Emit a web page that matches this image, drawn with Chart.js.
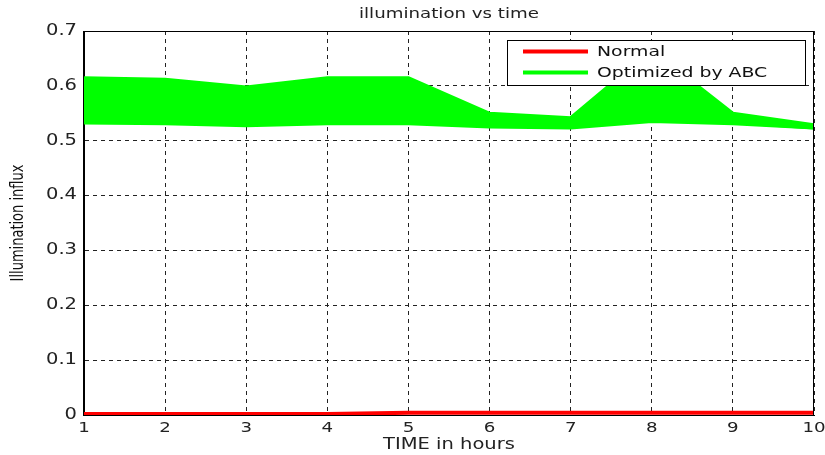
<!DOCTYPE html>
<html>
<head>
<meta charset="utf-8">
<script src="https://cdn.jsdelivr.net/npm/chart.js@4/dist/chart.umd.min.js"></script>
<style>
  html, body { margin: 0; padding: 0; background: #fff; }
  canvas { display: block; }
</style>
</head>
<body>
<canvas id="chart" width="825" height="455"></canvas>
<script>
// DATA
const hours = [1, 2, 3, 4, 5, 6, 7, 8, 9, 10];
const normal = [0.002, 0.002, 0.002, 0.002, 0.004, 0.004, 0.004, 0.004, 0.004, 0.004];

// the "Optimized by ABC" runs, top of the band first
const abc1 = [0.614, 0.611, 0.597, 0.614, 0.614, 0.549, 0.541, 0.665, 0.549, 0.528];
const abc2 = [0.603, 0.600, 0.588, 0.603, 0.604, 0.546, 0.538, 0.640, 0.546, 0.527];
const abc3 = [0.592, 0.588, 0.578, 0.592, 0.594, 0.543, 0.535, 0.618, 0.543, 0.526];
const abc4 = [0.580, 0.576, 0.568, 0.580, 0.583, 0.540, 0.533, 0.600, 0.541, 0.526];
const abc5 = [0.567, 0.565, 0.557, 0.567, 0.570, 0.537, 0.531, 0.584, 0.538, 0.525];
const abc6 = [0.555, 0.553, 0.546, 0.555, 0.557, 0.533, 0.528, 0.568, 0.536, 0.525];
const abc7 = [0.543, 0.542, 0.537, 0.543, 0.544, 0.529, 0.526, 0.552, 0.534, 0.524];
const abc8 = [0.533, 0.532, 0.528, 0.532, 0.532, 0.526, 0.524, 0.536, 0.532, 0.524];
const abcRuns = [abc1, abc2, abc3, abc4, abc5, abc6, abc7, abc8];

const yTickLabels = ['0', '0.1', '0.2', '0.3', '0.4', '0.5', '0.6', '0.7'];
const seriesNames = ['Normal', 'Optimized by ABC'];

const RED = '#ff0000';
const GREEN = '#00ff00';
const FONT = "'DejaVu Sans', sans-serif";

// the reference figure is stretched sideways, so the text is too
const TEXT_STRETCH = 1.3;
const canvas = document.getElementById('chart');
const ctx = canvas.getContext('2d');
const plainFillText = ctx.fillText;
ctx.fillText = function (text, x, y, maxWidth) {
    const m = this.getTransform();
    const p = m.transformPoint(new DOMPoint(x, y));
    this.save();
    this.setTransform(new DOMMatrix().translate(p.x, p.y).scale(TEXT_STRETCH, 1).translate(-p.x, -p.y).multiply(m));
    if (maxWidth === undefined) plainFillText.call(this, text, x, y);
    else plainFillText.call(this, text, x, y, maxWidth);
    this.restore();
};

function points(values) {
    return hours.map((h, i) => ({ x: h, y: values[i] }));
}

const datasets = [{
    label: seriesNames[0],
    data: points(normal),
    borderColor: RED,
    borderWidth: 4,
    pointRadius: 0,
    order: 0
}];

abcRuns.forEach((run, i) => {
    datasets.push({
        label: i === 0 ? seriesNames[1] : '',
        data: points(run),
        borderColor: GREEN,
        backgroundColor: GREEN,
        borderWidth: 4,
        pointRadius: 0,
        fill: i === 0 ? abcRuns.length : false,
        order: 1
    });
});

// box round the axes and the legend inside it
const frameAndLegend = {
    id: 'frameAndLegend',
    afterDatasetsDraw(chart) {
        const c = chart.ctx;
        const a = chart.chartArea;
        c.save();
        c.strokeStyle = '#000';
        c.lineWidth = 1;
        c.setLineDash([]);
        c.strokeRect(Math.round(a.left) - 0.5, Math.round(a.top) + 0.5, Math.round(a.right - a.left), Math.round(a.bottom - a.top));

        const lx = 507.5, ly = 40.5, lw = 298, lh = 45;
        c.fillStyle = '#fff';
        c.fillRect(lx, ly, lw, lh);
        c.strokeRect(lx, ly, lw, lh);

        const entries = chart.data.datasets.filter(d => d.label);
        entries.forEach((d, i) => {
            const y = 51.5 + i * 21;
            c.strokeStyle = d.borderColor;
            c.lineWidth = 4;
            c.beginPath();
            c.moveTo(523, y);
            c.lineTo(588, y);
            c.stroke();
            c.fillStyle = '#111';
            c.font = '14.5px ' + FONT;
            c.textAlign = 'left';
            c.textBaseline = 'middle';
            c.fillText(d.label, 597, y + 1);
        });
        c.restore();
    }
};

new Chart(ctx, {
    type: 'line',
    data: { datasets: datasets },
    options: {
        responsive: false,
        animation: false,
        layout: { padding: { left: 0, right: 11, top: 0, bottom: 0 } },
        scales: {
            x: {
                type: 'linear',
                min: 1,
                max: 10,
                ticks: {
                    stepSize: 1,
                    padding: 5,
                    color: '#222',
                    font: { family: FONT, size: 14 },
                    maxRotation: 0
                },
                grid: { color: '#222', lineWidth: 1, drawTicks: false },
                border: { display: true, color: '#000', width: 1, dash: [4, 4] },
                title: {
                    display: true,
                    text: 'TIME in hours',
                    color: '#222',
                    font: { family: FONT, size: 15 },
                    padding: { top: 0, bottom: 1 }
                },
                afterFit(s) {
                    s.height = 40;
                    s.paddingLeft = 0;
                    s.paddingRight = 0;
                }
            },
            y: {
                min: 0,
                max: 0.7,
                ticks: {
                    stepSize: 0.1,
                    padding: 7,
                    color: '#222',
                    font: { family: FONT, size: 15 },
                    callback: (v, i) => yTickLabels[i]
                },
                grid: { color: '#222', lineWidth: 1, drawTicks: false },
                border: { display: true, color: '#000', width: 1, dash: [4, 4] },
                title: {
                    display: true,
                    text: 'Illumination influx',
                    color: '#111',
                    font: { family: FONT, size: 13 },
                    padding: { top: 11, bottom: 0 }
                },
                afterFit(s) {
                    s.width = 84;
                    s.paddingTop = 0;
                    s.paddingBottom = 0;
                }
            }
        },
        plugins: {
            legend: { display: false },
            tooltip: { enabled: false },
            title: {
                display: true,
                fullSize: false,
                text: 'illumination vs time',
                color: '#222',
                font: { family: FONT, size: 14, weight: 'normal' },
                padding: { top: 6, bottom: 8.2 }
            }
        }
    },
    plugins: [frameAndLegend]
});
</script>
</body>
</html>
